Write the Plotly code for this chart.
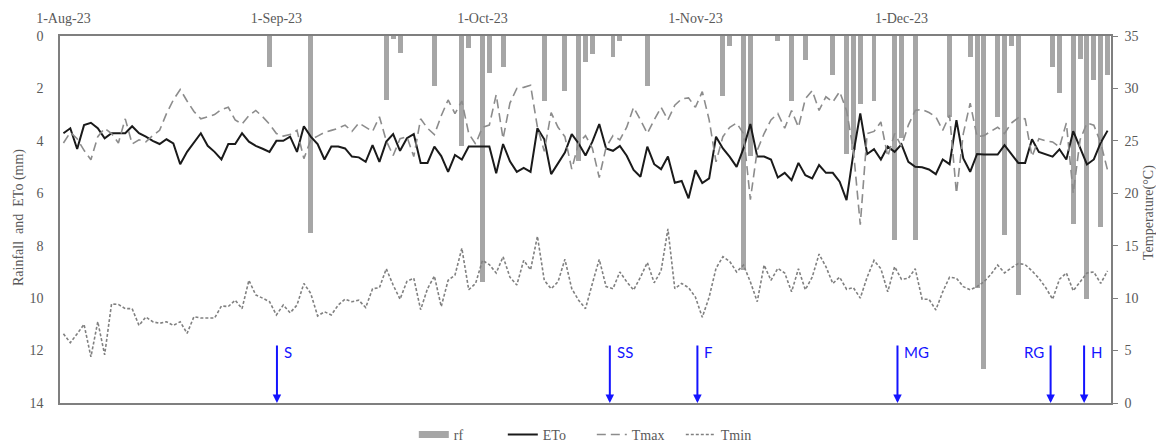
import pandas as pd
import plotly.graph_objects as go

# ---------------- data ----------------
start_date = "2023-08-01"
n_days = 153

eto_mm = [3.71, 3.52, 4.31, 3.40, 3.31, 3.52, 3.90, 3.71, 3.71, 3.71,
          3.44, 3.71, 3.84, 4.00, 4.12, 3.94, 4.10, 4.89, 4.42, 4.05,
          3.71, 4.19, 4.42, 4.71, 4.12, 4.12, 3.71, 4.03, 4.19, 4.30,
          4.42, 4.00, 4.00, 3.84, 4.42, 3.44, 3.84, 4.12, 4.71, 4.22,
          4.22, 4.29, 4.60, 4.63, 4.80, 4.16, 4.80, 4.03, 3.74, 4.38,
          3.90, 3.74, 4.84, 4.84, 4.22, 4.58, 5.18, 4.54, 4.71, 4.22,
          4.22, 4.22, 4.22, 5.24, 4.12, 4.78, 5.18, 5.03, 5.18, 3.52,
          3.94, 5.27, 4.87, 4.45, 3.74, 4.10, 4.56, 4.03, 3.36, 4.29,
          4.38, 4.19, 4.57, 5.11, 5.37, 4.22, 4.89, 5.08, 4.60, 5.60,
          5.53, 6.19, 5.12, 5.61, 5.43, 3.84, 4.29, 4.61, 4.99, 4.29,
          3.36, 4.60, 4.60, 4.71, 5.40, 5.22, 5.50, 4.84, 5.31, 5.43,
          4.92, 5.22, 5.22, 5.56, 6.26, 4.48, 2.95, 4.50, 4.32, 4.71,
          4.22, 4.42, 4.13, 4.80, 4.99, 5.01, 5.09, 5.27, 4.71, 4.89,
          3.21, 4.67, 5.18, 4.50, 4.52, 4.52, 4.52, 4.16, 4.50, 4.84,
          4.84, 3.94, 4.42, 4.50, 4.60, 4.32, 4.71, 3.63, 4.29, 4.90,
          4.71, 4.07, 3.61]

tmax_c = [24.8, 25.8, 25.2, 24.1, 23.2, 25.4, 26.2, 25.7, 24.8, 27.1,
          24.7, 25.1, 24.9, 25.5, 26.0, 27.6, 28.9, 29.9, 28.8, 27.8,
          27.1, 27.3, 27.5, 28.0, 28.2, 27.0, 26.6, 27.4, 27.9, 27.3,
          26.6, 25.7, 25.45, 25.6, 26.0, 23.3, 25.1, 25.45, 25.8, 26.0,
          26.2, 26.5, 25.9, 26.7, 26.3, 25.9, 27.3, 25.0, 23.6, 25.2,
          25.4, 23.5, 27.1, 26.2, 25.6, 27.4, 28.9, 27.6, 28.8, 25.7,
          24.7, 26.3, 26.5, 29.4, 25.2, 28.6, 30.0, 30.1, 30.3, 26.3,
          24.0, 27.7, 26.3, 25.4, 22.3, 24.8, 25.5, 24.3, 21.5, 24.4,
          25.5, 25.1, 26.3, 28.2, 27.0, 25.7, 27.0, 28.2, 27.0, 28.4,
          29.0, 29.1, 28.2, 29.7, 27.0, 23.0, 25.4, 26.3, 26.7, 25.7,
          19.4, 24.1, 25.7, 27.0, 27.6, 26.2, 27.9, 26.3, 29.0, 29.8,
          27.9, 29.2, 28.7, 29.7, 27.9, 24.1, 17.0, 25.7, 25.9, 26.8,
          23.5, 25.7, 24.5, 26.5, 27.9, 28.0, 27.7, 27.3, 26.0, 27.45,
          20.0, 25.7, 28.6, 25.4, 25.5, 25.9, 26.3, 25.7, 26.7, 27.2,
          27.1, 23.5, 25.2, 25.0, 24.9, 24.4, 26.7, 20.0, 25.1, 26.7,
          26.5, 24.8, 22.2]

tmin_c = [6.6, 5.75, 6.6, 7.5, 4.4, 7.75, 4.6, 9.44, 9.4, 9.0,
          9.0, 7.4, 8.2, 7.75, 7.6, 7.75, 7.4, 7.75, 6.64, 8.23,
          8.1, 8.1, 8.1, 9.25, 9.2, 9.8, 9.0, 11.7, 10.3, 10.0,
          9.66, 8.4, 9.34, 8.6, 9.34, 11.4, 10.45, 8.3, 8.7, 8.4,
          9.34, 9.9, 9.66, 9.8, 9.1, 10.9, 11.0, 12.8, 11.25, 9.9,
          11.6, 11.9, 8.9, 10.9, 12.1, 9.2, 11.7, 12.2, 14.75, 10.8,
          11.4, 13.6, 13.2, 12.4, 13.95, 12.0, 11.25, 13.6, 12.7, 15.9,
          11.7, 10.9, 11.56, 13.7, 10.9, 9.8, 9.0, 11.4, 13.7, 11.1,
          10.9, 12.5, 11.56, 10.77, 12.0, 13.4, 11.47, 12.6, 16.6, 10.9,
          11.4, 11.0, 10.1, 8.17, 10.1, 12.84, 13.95, 13.5, 12.5, 13.15,
          11.56, 9.66, 13.15, 11.7, 12.84, 12.4, 10.6, 12.8, 10.8, 12.0,
          14.2, 13.0, 11.4, 12.0, 10.85, 11.0, 10.0, 12.0, 13.6, 12.8,
          10.6, 13.0, 11.8, 11.9, 12.8, 9.9, 9.9, 8.87, 10.6, 12.0,
          11.9, 11.1, 10.8, 11.1, 11.56, 12.25, 13.15, 12.4, 12.9, 13.3,
          13.2, 12.6, 11.9, 11.0, 9.9, 11.8, 12.4, 10.7, 11.5, 12.4,
          12.5, 11.4, 12.6]

rain_dates = ["2023-08-31", "2023-09-06", "2023-09-17", "2023-09-18", "2023-09-19",
              "2023-09-24", "2023-09-28", "2023-09-29", "2023-10-01", "2023-10-02",
              "2023-10-04", "2023-10-10", "2023-10-13", "2023-10-15", "2023-10-16",
              "2023-10-17", "2023-10-20", "2023-10-21", "2023-10-25", "2023-11-05",
              "2023-11-06", "2023-11-08", "2023-11-09", "2023-11-13", "2023-11-15",
              "2023-11-17", "2023-11-21", "2023-11-23", "2023-11-24", "2023-11-25",
              "2023-11-27", "2023-11-30", "2023-12-01", "2023-12-03", "2023-12-08",
              "2023-12-11", "2023-12-12", "2023-12-13", "2023-12-15", "2023-12-16",
              "2023-12-17", "2023-12-18", "2023-12-23", "2023-12-24", "2023-12-26",
              "2023-12-27", "2023-12-28", "2023-12-29", "2023-12-30", "2023-12-31"]
rain_mm = [1.2, 7.5, 2.45, 0.1, 0.66,
           1.9, 4.2, 0.47, 9.38, 1.4,
           1.2, 2.47, 2.08, 4.77, 0.98,
           0.67, 0.79, 0.2, 1.9, 2.27,
           0.38, 8.93, 4.57, 0.2, 2.48,
           0.9, 1.49, 4.52, 4.35, 2.58,
           2.48, 7.79, 3.9, 7.79, 3.1,
           0.79, 9.6, 12.7, 3.1, 7.6,
           0.4, 9.89, 1.19, 2.19, 7.18,
           0.87, 10.05, 1.68, 7.28, 1.49]

month_ticks = ["2023-08-01", "2023-09-01", "2023-10-01", "2023-11-01", "2023-12-01"]
month_labels = ["1-Aug-23", "1-Sep-23", "1-Oct-23", "1-Nov-23", "1-Dec-23"]

left_ticks = [0, 2, 4, 6, 8, 10, 12, 14]
right_ticks = [0, 5, 10, 15, 20, 25, 30, 35]

stage_names = ["S", "SS", "F", "MG", "RG", "H"]
stage_dates = ["2023-09-01 02:00", "2023-10-19 13:00", "2023-11-01 07:00",
               "2023-11-30 10:00", "2023-12-22 17:00", "2023-12-27 14:00"]
stage_label_side = ["right", "right", "right", "right", "left", "right"]

# ---------------- figure ----------------
dates = pd.date_range(start_date, periods=n_days, freq="D")
x_start = dates[0] - pd.Timedelta(hours=12)
x_end = dates[-1] + pd.Timedelta(hours=12)

grey_txt = "#595959"
axis_col = "#7f7f7f"
bar_col = "#a6a6a6"
serif = "Liberation Serif"
blue = "#1414ff"

fig = go.Figure()

# legend proxy for rainfall (thick bar swatch)
fig.add_trace(go.Scatter(x=[None], y=[None], mode="lines", name="rf",
                         line=dict(color=bar_col, width=7), yaxis="y"))
fig.add_trace(go.Bar(x=pd.to_datetime(rain_dates), y=rain_mm, name="rf",
                     marker=dict(color=bar_col, line=dict(width=0)),
                     width=0.72 * 86400000, showlegend=False, yaxis="y"))
fig.add_trace(go.Scatter(x=dates, y=eto_mm, mode="lines", name="ETo",
                         line=dict(color="#1a1a1a", width=2), yaxis="y"))
fig.add_trace(go.Scatter(x=dates, y=tmax_c, mode="lines", name="Tmax",
                         line=dict(color="#8c8c8c", width=1.6, dash="9px,5px"),
                         yaxis="y2"))
fig.add_trace(go.Scatter(x=dates, y=tmin_c, mode="lines", name="Tmin",
                         line=dict(color="#808080", width=1.6, dash="3px,2px"),
                         yaxis="y2"))

annotations = []
for name, d, side in zip(stage_names, stage_dates, stage_label_side):
    annotations.append(dict(x=d, y=0, xref="x", yref="paper", text="",
                            showarrow=True, ax=0, ay=-59, arrowhead=2,
                            arrowsize=0.85, arrowwidth=2, arrowcolor=blue,
                            standoff=0))
    annotations.append(dict(x=d, y=0.139, xref="x", yref="paper", text=name,
                            showarrow=False,
                            xanchor="left" if side == "right" else "right",
                            xshift=5 if side == "right" else -5,
                            yanchor="middle",
                            font=dict(family="Lato", size=15, color=blue)))

annotations.append(dict(x=-0.039, y=0.504, xref="paper", yref="paper",
                        text="Rainfall  and  ETo (mm)", textangle=-90,
                        showarrow=False, xanchor="center", yanchor="middle",
                        font=dict(family=serif, size=14, color=grey_txt)))
annotations.append(dict(x=1.036, y=0.52, xref="paper", yref="paper",
                        text="Temperature(°C)", textangle=-90,
                        showarrow=False, xanchor="center", yanchor="middle",
                        font=dict(family=serif, size=14, color=grey_txt)))

fig.update_layout(
    width=1156, height=442,
    margin=dict(l=60, r=45, t=36, b=39, autoexpand=False),
    plot_bgcolor="white", paper_bgcolor="white",
    font=dict(family=serif, size=14, color=grey_txt),
    xaxis=dict(type="date", range=[x_start, x_end], side="top",
               tickvals=month_ticks, ticktext=month_labels,
               showline=True, linecolor=axis_col, linewidth=1.5, mirror=True,
               ticks="", showgrid=False, zeroline=False, ticklabelstandoff=6),
    yaxis=dict(range=[14, 0], tickvals=left_ticks, showline=True,
               linecolor=axis_col, linewidth=1.5, ticks="", showgrid=False,
               zeroline=False, ticklabelstandoff=12),
    yaxis2=dict(range=[0, 35], tickvals=right_ticks, overlaying="y", side="right",
                showline=True, linecolor=axis_col, linewidth=1.5,
                ticks="outside", ticklen=5, tickcolor=axis_col, tickwidth=1,
                showgrid=False, zeroline=False, ticklabelstandoff=4),
    legend=dict(orientation="h", x=0.506, xanchor="center", y=-0.087,
                yanchor="middle", font=dict(family=serif, size=14, color=grey_txt),
                bgcolor="rgba(0,0,0,0)", entrywidth=44, entrywidthmode="pixels"),
    annotations=annotations,
    bargap=0,
)

fig.write_html("out.html", config={"displayModeBar": False},
               post_script="document.body.style.margin='0px';")
